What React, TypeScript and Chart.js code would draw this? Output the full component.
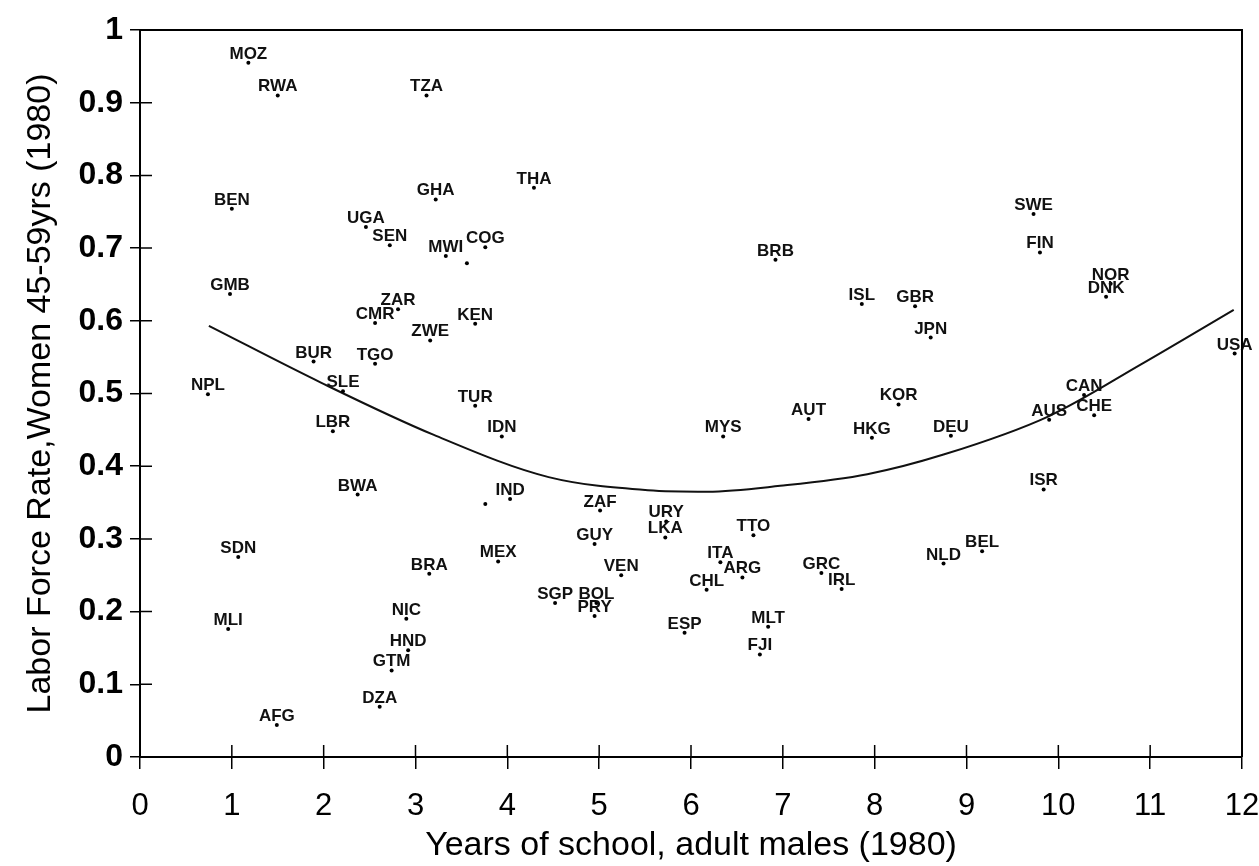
import React, { useEffect, useRef } from "react";
import { Chart, registerables } from "chart.js";

Chart.register(...registerables);

// ---------- data ----------
const countries = [
  "MOZ", "RWA", "TZA", "THA", "BEN", "GHA", "UGA", "SEN", "MWI", "COG",
  "GMB", "CMR", "ZAR", "ZWE", "KEN", "BUR", "TGO", "NPL", "SLE", "TUR",
  "LBR", "IDN", "BWA", "IND", "SDN", "BRA", "MEX", "MLI", "NIC", "HND",
  "GTM", "DZA", "AFG", "ZAF", "GUY", "URY", "LKA", "VEN", "TTO", "ITA",
  "ARG", "CHL", "GRC", "IRL", "SGP", "BOL", "PRY", "ESP", "MLT", "FJI",
  "BRB", "MYS", "AUT", "SWE", "FIN", "NOR", "DNK", "ISL", "GBR", "JPN",
  "KOR", "HKG", "DEU", "AUS", "CAN", "CHE", "USA", "ISR", "NLD", "BEL",
];

const schoolYears = [
  1.18, 1.5, 3.12, 4.29, 1.0, 3.22, 2.46, 2.72, 3.33, 3.76,
  0.98, 2.56, 2.81, 3.16, 3.65, 1.89, 2.56, 0.74, 2.21, 3.65,
  2.1, 3.94, 2.37, 4.03, 1.07, 3.15, 3.9, 0.96, 2.9, 2.92,
  2.74, 2.61, 1.49, 5.01, 4.95, 5.73, 5.72, 5.24, 6.68, 6.32,
  6.56, 6.17, 7.42, 7.64, 4.52, 4.97, 4.95, 5.93, 6.84, 6.75,
  6.92, 6.35, 7.28, 9.73, 9.8, 10.57, 10.52, 7.86, 8.44, 8.61,
  8.26, 7.97, 8.83, 9.9, 10.28, 10.39, 11.92, 9.84, 8.75, 9.17,
];

const laborRate = [
  0.955, 0.91, 0.91, 0.783, 0.754, 0.767, 0.729, 0.704, 0.689, 0.701,
  0.637, 0.597, 0.616, 0.573, 0.596, 0.544, 0.541, 0.499, 0.503, 0.483,
  0.448, 0.441, 0.361, 0.355, 0.275, 0.252, 0.269, 0.176, 0.19, 0.147,
  0.119, 0.069, 0.044, 0.339, 0.293, 0.324, 0.302, 0.25, 0.305, 0.268,
  0.247, 0.23, 0.253, 0.231, 0.212, 0.212, 0.194, 0.171, 0.179, 0.141,
  0.684, 0.441, 0.465, 0.747, 0.694, 0.651, 0.633, 0.623, 0.62, 0.577,
  0.485, 0.439, 0.442, 0.464, 0.498, 0.47, 0.555, 0.368, 0.266, 0.283,
];

// dots printed without a country code
const unlabeledX = [3.56, 3.76];
const unlabeledY = [0.679, 0.348];

// fitted U-shaped curve
const fitX = [0.75, 1.97, 3.2, 4.45, 5.53, 6.18, 6.97, 7.92, 8.75, 9.9, 10.9, 11.91];
const fitY = [0.593, 0.515, 0.443, 0.385, 0.367, 0.365, 0.373, 0.389, 0.416, 0.469, 0.54, 0.615];

const xTickValues = [0, 1, 2, 3, 4, 5, 6, 7, 8, 9, 10, 11, 12];
const xTickLabels = ["0", "1", "2", "3", "4", "5", "6", "7", "8", "9", "10", "11", "12"];
const yTickValues = [0, 0.1, 0.2, 0.3, 0.4, 0.5, 0.6, 0.7, 0.8, 0.9, 1];
const yTickLabels = ["0", "0.1", "0.2", "0.3", "0.4", "0.5", "0.6", "0.7", "0.8", "0.9", "1"];

const xTitle = "Years of school, adult males (1980)";
const yTitle = "Labor Force Rate,Women 45-59yrs (1980)";

// ---------- styling ----------
const FAMILY = "'Liberation Sans', Arial, Helvetica, sans-serif";
const W = 1259;
const H = 866;

const labelPlugin = {
  id: "countryLabels",
  afterDatasetsDraw(chart: any) {
    const meta = chart.getDatasetMeta(0);
    const ctx = chart.ctx;
    ctx.save();
    ctx.font = `bold 17px ${FAMILY}`;
    ctx.fillStyle = "#111";
    ctx.textAlign = "center";
    ctx.textBaseline = "alphabetic";
    meta.data.forEach((el: any, i: number) => {
      ctx.fillText(countries[i], el.x, el.y - 4);
    });
    ctx.restore();
  },
};

const framePlugin = {
  id: "frame",
  afterDraw(chart: any) {
    const { ctx, chartArea: a, scales } = chart;
    ctx.save();
    ctx.strokeStyle = "#000";
    ctx.lineWidth = 2;
    ctx.beginPath();
    ctx.moveTo(a.left, a.top);
    ctx.lineTo(a.right, a.top);
    ctx.lineTo(a.right, a.bottom);
    ctx.stroke();
    ctx.lineWidth = 1.5;
    ctx.beginPath();
    scales.x.ticks.forEach((t: any) => {
      const px = scales.x.getPixelForValue(t.value);
      ctx.moveTo(px, a.bottom);
      ctx.lineTo(px, a.bottom - 12);
    });
    scales.y.ticks.forEach((t: any) => {
      const py = scales.y.getPixelForValue(t.value);
      ctx.moveTo(a.left, py);
      ctx.lineTo(a.left + 12, py);
    });
    ctx.stroke();
    ctx.restore();
  },
};

export default function App() {
  const ref = useRef<HTMLCanvasElement | null>(null);

  useEffect(() => {
    if (!ref.current) return;
    const chart = new Chart(ref.current, {
      type: "scatter",
      data: {
        datasets: [
          {
            label: "countries",
            data: schoolYears.map((x, i) => ({ x, y: laborRate[i] })),
            pointRadius: 2,
            pointBackgroundColor: "#000",
            pointBorderWidth: 0,
            showLine: false,
          },
          {
            label: "unlabeled",
            data: unlabeledX.map((x, i) => ({ x, y: unlabeledY[i] })),
            pointRadius: 2,
            pointBackgroundColor: "#000",
            pointBorderWidth: 0,
            showLine: false,
          },
          {
            label: "fit",
            data: fitX.map((x, i) => ({ x, y: fitY[i] })),
            showLine: true,
            borderColor: "#111",
            borderWidth: 2,
            pointRadius: 0,
            cubicInterpolationMode: "monotone",
            fill: false,
          },
        ],
      },
      options: {
        responsive: false,
        animation: false,
        layout: { padding: { top: 30, right: 17, bottom: 0, left: 0 } },
        plugins: {
          legend: { display: false },
          tooltip: { enabled: false },
        },
        scales: {
          x: {
            type: "linear",
            min: 0,
            max: 12,
            afterBuildTicks: (s: any) => {
              s.ticks = xTickValues.map((v) => ({ value: v }));
            },
            afterFit: (s: any) => {
              s.height = 109;
              s.paddingLeft = 0;
              s.paddingRight = 0;
              s.paddingTop = 0;
              s.paddingBottom = 0;
            },
            grid: {
              drawOnChartArea: false,
              drawTicks: true,
              tickLength: 12,
              color: "#000",
              lineWidth: 1.5,
            },
            border: { display: true, color: "#000", width: 2 },
            ticks: {
              callback: (_v: any, i: number) => xTickLabels[i],
              font: { family: FAMILY, size: 31 },
              color: "#000",
              padding: 19,
              maxRotation: 0,
              autoSkip: false,
            },
            title: {
              display: true,
              text: xTitle,
              font: { family: FAMILY, size: 34 },
              color: "#000",
              padding: { top: 0, bottom: 0 },
            },
          },
          y: {
            type: "linear",
            min: 0,
            max: 1,
            afterBuildTicks: (s: any) => {
              s.ticks = yTickValues.map((v) => ({ value: v }));
            },
            afterFit: (s: any) => {
              s.width = 140;
              s.paddingLeft = 0;
              s.paddingRight = 0;
              s.paddingTop = 0;
              s.paddingBottom = 0;
            },
            grid: {
              drawOnChartArea: false,
              drawTicks: true,
              tickLength: 10,
              color: "#000",
              lineWidth: 1.5,
            },
            border: { display: true, color: "#000", width: 2 },
            ticks: {
              callback: (_v: any, i: number) => yTickLabels[i],
              font: { family: FAMILY, size: 32, weight: "bold" },
              color: "#000",
              padding: 7,
              autoSkip: false,
            },
            title: {
              display: true,
              text: yTitle,
              font: { family: FAMILY, size: 34 },
              color: "#000",
              padding: { top: 20, bottom: 0 },
            },
          },
        },
      },
      plugins: [labelPlugin, framePlugin],
    } as any);
    return () => chart.destroy();
  }, []);

  return (
    <div style={{ position: "absolute", left: 0, top: 0, width: W, height: H, background: "#fff" }}>
      <canvas ref={ref} width={W} height={H} style={{ display: "block" }} />
    </div>
  );
}
